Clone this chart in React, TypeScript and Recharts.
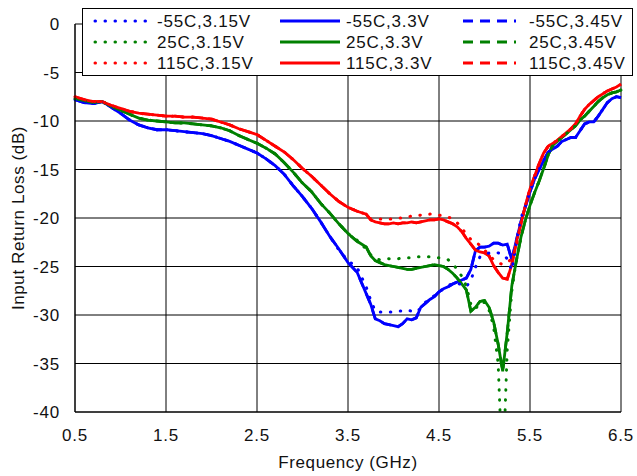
import React from "react";
import { LineChart, Line, XAxis, YAxis, CartesianGrid, Legend } from "recharts";

// frequency grid (GHz)
const freq = [
  0.5, 0.6, 0.7, 0.8, 0.9, 1.0, 1.1, 1.2, 1.3, 1.4,
  1.5, 1.6, 1.7, 1.8, 1.9, 2.0, 2.1, 2.2, 2.3, 2.4,
  2.5, 2.6, 2.7, 2.8, 2.9, 3.0, 3.1, 3.2, 3.3, 3.4,
  3.5, 3.6, 3.7, 3.75, 3.8, 3.85, 3.9, 3.95, 4.0, 4.05,
  4.1, 4.15, 4.2, 4.25, 4.3, 4.35, 4.4, 4.45, 4.5, 4.55,
  4.6, 4.65, 4.7, 4.75, 4.8, 4.85, 4.9, 4.95, 5.0, 5.05,
  5.1, 5.15, 5.2, 5.25, 5.3, 5.35, 5.4, 5.45, 5.5, 5.55,
  5.6, 5.65, 5.7, 5.75, 5.8, 5.85, 5.9, 5.95, 6.0, 6.05,
  6.1, 6.15, 6.2, 6.25, 6.3, 6.35, 6.4, 6.45, 6.5,
];

// input return loss (dB)
const blue315 = [
  -7.8, -8.1, -8.2, -8.0, -8.6, -9.2, -9.9, -10.4, -10.7, -10.9,
  -10.9, -11.0, -11.1, -11.2, -11.3, -11.5, -11.8, -12.1, -12.5, -12.9,
  -13.3, -13.9, -14.6, -15.5, -16.7, -17.8, -19.0, -20.4, -21.9, -23.3,
  -24.4, -25.1, -27.1, -28.5, -29.6, -29.7, -29.7, -29.7, -29.7, -29.6,
  -29.6, -29.5, -29.6, -29.7, -29.3, -28.7, -28.3, -28.0, -27.6, -27.3,
  -27.0, -26.7, -26.7, -26.9, -27.1, -26.4, -25.1, -24.0, -23.8, -23.6,
  -23.5, -23.6, -23.7, -24.2, -25.4, -22.6, -20.0, -18.8, -17.3, -16.0,
  -15.0, -14.1, -13.2, -12.9, -12.6, -12.1, -11.9, -11.7, -11.7, -11.0,
  -10.3, -10.1, -10.1, -9.5, -8.8, -8.1, -7.7, -7.5, -7.6,
];
const blue330 = [
  -7.8, -8.1, -8.2, -8.0, -8.6, -9.2, -9.9, -10.4, -10.7, -10.9,
  -10.9, -11.0, -11.1, -11.2, -11.3, -11.5, -11.8, -12.1, -12.5, -12.9,
  -13.3, -13.9, -14.6, -15.5, -16.7, -17.8, -19.0, -20.4, -21.9, -23.2,
  -24.6, -25.6, -27.8, -28.9, -30.4, -30.6, -30.9, -31.0, -31.1, -31.2,
  -30.9, -30.4, -30.5, -30.3, -29.2, -28.8, -28.4, -28.1, -27.6, -27.3,
  -27.1, -26.8, -26.6, -26.4, -26.2, -25.3, -23.4, -23.0, -23.0, -22.9,
  -22.6, -22.6, -22.8, -22.7, -24.3, -22.3, -20.4, -18.8, -17.3, -16.0,
  -15.0, -14.1, -13.2, -12.9, -12.6, -12.1, -11.9, -11.7, -11.7, -11.0,
  -10.3, -10.1, -10.1, -9.5, -8.8, -8.1, -7.7, -7.5, -7.6,
];
const green315 = [
  -7.7, -7.9, -8.1, -8.0, -8.5, -8.9, -9.3, -9.7, -9.9, -10.0,
  -10.1, -10.2, -10.2, -10.3, -10.4, -10.5, -10.7, -11.0, -11.5, -11.9,
  -12.3, -12.8, -13.4, -14.3, -15.3, -16.4, -17.3, -18.5, -19.5, -20.6,
  -21.6, -22.3, -23.2, -23.8, -24.2, -24.3, -24.3, -24.2, -24.2, -24.2,
  -24.1, -24.1, -24.1, -24.0, -24.0, -24.0, -24.0, -24.1, -24.1, -24.2,
  -24.3, -24.7, -25.3, -26.0, -27.0, -28.9, -29.4, -28.7, -28.7, -29.5,
  -31.2, -35.0, -47.0, -33.5, -27.5, -24.3, -22.0, -20.2, -18.7, -17.4,
  -16.2, -14.9, -13.5, -12.5, -12.1, -11.7, -11.3, -10.9, -10.5, -9.9,
  -9.5, -9.0, -8.5, -8.0, -7.6, -7.3, -7.1, -7.0, -6.8,
];
const green330 = [
  -7.7, -7.9, -8.1, -8.0, -8.5, -8.9, -9.3, -9.7, -9.9, -10.0,
  -10.1, -10.2, -10.2, -10.3, -10.4, -10.5, -10.7, -11.0, -11.5, -11.9,
  -12.3, -12.8, -13.4, -14.3, -15.3, -16.4, -17.3, -18.5, -19.5, -20.6,
  -21.6, -22.4, -23.0, -23.9, -24.4, -24.6, -24.8, -24.9, -25.0, -25.1,
  -25.2, -25.3, -25.3, -25.2, -25.1, -25.0, -24.9, -24.8, -24.9, -25.0,
  -25.3, -25.7, -26.2, -26.8, -27.4, -29.6, -29.2, -28.6, -28.5, -29.2,
  -30.7, -33.0, -35.8, -31.8, -27.0, -24.4, -22.0, -20.2, -18.7, -17.4,
  -16.2, -14.9, -13.5, -12.5, -12.1, -11.7, -11.3, -10.9, -10.5, -9.9,
  -9.5, -9.0, -8.5, -8.0, -7.6, -7.3, -7.1, -7.0, -6.8,
];
const red315 = [
  -7.5, -7.8, -8.0, -8.0, -8.4, -8.7, -9.0, -9.2, -9.3, -9.4,
  -9.5, -9.5, -9.6, -9.6, -9.7, -9.8, -10.1, -10.4, -10.8, -11.1,
  -11.4, -12.0, -12.6, -13.2, -14.0, -14.9, -15.7, -16.6, -17.5, -18.3,
  -18.9, -19.3, -19.6, -20.1, -20.1, -20.1, -20.1, -20.1, -20.1, -20.0,
  -20.0, -19.9, -19.8, -19.8, -19.7, -19.7, -19.6, -19.6, -19.7, -19.8,
  -19.9, -20.1, -20.5, -21.0, -21.7, -22.2, -22.5, -22.8, -23.3, -23.8,
  -24.3, -24.6, -24.8, -24.6, -24.2, -22.9, -20.6, -18.7, -17.0, -15.7,
  -14.4, -13.3, -12.6, -12.3, -12.0, -11.6, -11.2, -10.8, -10.3, -9.5,
  -8.8, -8.3, -7.9, -7.5, -7.2, -6.9, -6.7, -6.5, -6.2,
];
const red330 = [
  -7.5, -7.8, -8.0, -8.0, -8.4, -8.7, -9.0, -9.2, -9.3, -9.4,
  -9.5, -9.5, -9.6, -9.6, -9.7, -9.8, -10.1, -10.4, -10.8, -11.1,
  -11.4, -12.0, -12.6, -13.2, -14.0, -14.9, -15.7, -16.6, -17.5, -18.3,
  -18.9, -19.3, -19.6, -20.2, -20.4, -20.5, -20.6, -20.6, -20.5, -20.6,
  -20.5, -20.5, -20.4, -20.5, -20.4, -20.3, -20.2, -20.2, -20.1, -20.2,
  -20.4, -20.6, -20.9, -21.4, -22.1, -22.7, -23.3, -23.5, -23.6, -23.9,
  -24.9, -25.6, -26.2, -26.3, -24.8, -22.5, -20.6, -18.7, -17.0, -15.7,
  -14.4, -13.3, -12.6, -12.3, -12.0, -11.6, -11.2, -10.8, -10.3, -9.5,
  -8.8, -8.3, -7.9, -7.5, -7.2, -6.9, -6.7, -6.5, -6.2,
];
// 3.45V traces sit right under the 3.3V ones in the plot
const blue345 = blue330;
const green345 = green330;
const red345 = red330;

const xTicks = [0.5, 1.5, 2.5, 3.5, 4.5, 5.5, 6.5];
const yTicks = [0, -5, -10, -15, -20, -25, -30, -35, -40];
const temps = ["-55C", "25C", "115C"];
const volts = ["3.15V", "3.3V", "3.45V"];
const colors = ["#0000FF", "#008000", "#FF0000"];

const values = [
  [blue315, blue330, blue345],
  [green315, green330, green345],
  [red315, red330, red345],
];

const rows = freq.map((f, i) => {
  const row: Record<string, number> = { f };
  values.forEach((byVolt, t) =>
    byVolt.forEach((arr, v) => {
      row[`s${t}${v}`] = arr[i];
    })
  );
  return row;
});

const FONT = "'Liberation Sans', Arial, sans-serif";
const DOT = "0.5 9.5";
const DASH = "10 7";
const styleFor = (v: number) => (v === 0 ? DOT : v === 2 ? DASH : undefined);

function ChartLegend() {
  const cols = [
    { x: 13, len: 54, tx: 75 },
    { x: 198, len: 60, tx: 264 },
    { x: 381, len: 53, tx: 447 },
  ];
  const rowsY = [13, 34, 55];
  return (
    <svg width={551} height={68} style={{ display: "block" }}>
      <rect x={0.5} y={0.5} width={550} height={67} fill="#fff" stroke="#000" />
      {cols.map((c, v) =>
        rowsY.map((y, t) => (
          <g key={`${t}${v}`}>
            <line
              x1={c.x}
              x2={c.x + c.len}
              y1={y}
              y2={y}
              stroke={colors[t]}
              strokeWidth={3}
              strokeDasharray={styleFor(v)}
              strokeLinecap={v === 0 ? "round" : "butt"}
            />
            <text
              x={c.tx}
              y={y}
              dy="0.36em"
              fontSize={17}
              fontFamily={FONT}
              letterSpacing={0.8}
              fill="#111"
            >
              {`${temps[t]},${volts[v]}`}
            </text>
          </g>
        ))
      )}
    </svg>
  );
}

export default function App() {
  const order = [2, 1, 0];
  return (
    <div style={{ position: "absolute", left: 0, top: 0, background: "#fff" }}>
      <LineChart
        width={637}
        height={476}
        data={rows}
        margin={{ top: 24, right: 16, bottom: 0, left: 0 }}
      >
        <CartesianGrid stroke="#000" strokeWidth={1} />
        <XAxis
          dataKey="f"
          type="number"
          domain={[0.5, 6.5]}
          ticks={xTicks}
          tickFormatter={(v: number) => v.toFixed(1)}
          tickLine={false}
          tickSize={0}
          tickMargin={17}
          height={64}
          axisLine={{ stroke: "#000" }}
          tick={{ fill: "#111", fontSize: 17, fontFamily: FONT, letterSpacing: 0.8 }}
          label={{
            value: "Frequency (GHz)",
            position: "insideBottom",
            offset: 8,
            fill: "#111",
            fontSize: 17,
            fontFamily: FONT,
            letterSpacing: 0.6,
          }}
        />
        <YAxis
          type="number"
          domain={[-40, 0]}
          ticks={yTicks}
          allowDataOverflow
          tickLine={false}
          tickSize={0}
          tickMargin={15}
          width={75}
          axisLine={{ stroke: "#000" }}
          tick={{ fill: "#111", fontSize: 17, fontFamily: FONT, letterSpacing: 0.8 }}
          label={{
            value: "Input Return Loss (dB)",
            angle: -90,
            position: "center",
            dx: -20,
            fill: "#111",
            fontSize: 17,
            fontFamily: FONT,
            letterSpacing: 0.6,
          }}
        />
        {order.map((v) =>
          temps.map((_, t) => (
            <Line
              key={`s${t}${v}`}
              dataKey={`s${t}${v}`}
              type="linear"
              stroke={colors[t]}
              strokeWidth={v === 0 ? 3 : 2.8}
              strokeDasharray={styleFor(v)}
              strokeLinecap={v === 0 ? "round" : "butt"}
              dot={false}
              isAnimationActive={false}
            />
          ))
        )}
        <Legend
          verticalAlign="middle"
          align="center"
          layout="horizontal"
          wrapperStyle={{ position: "absolute", left: 82, top: 8, width: 551, height: 68 }}
          content={() => <ChartLegend />}
        />
      </LineChart>
    </div>
  );
}
